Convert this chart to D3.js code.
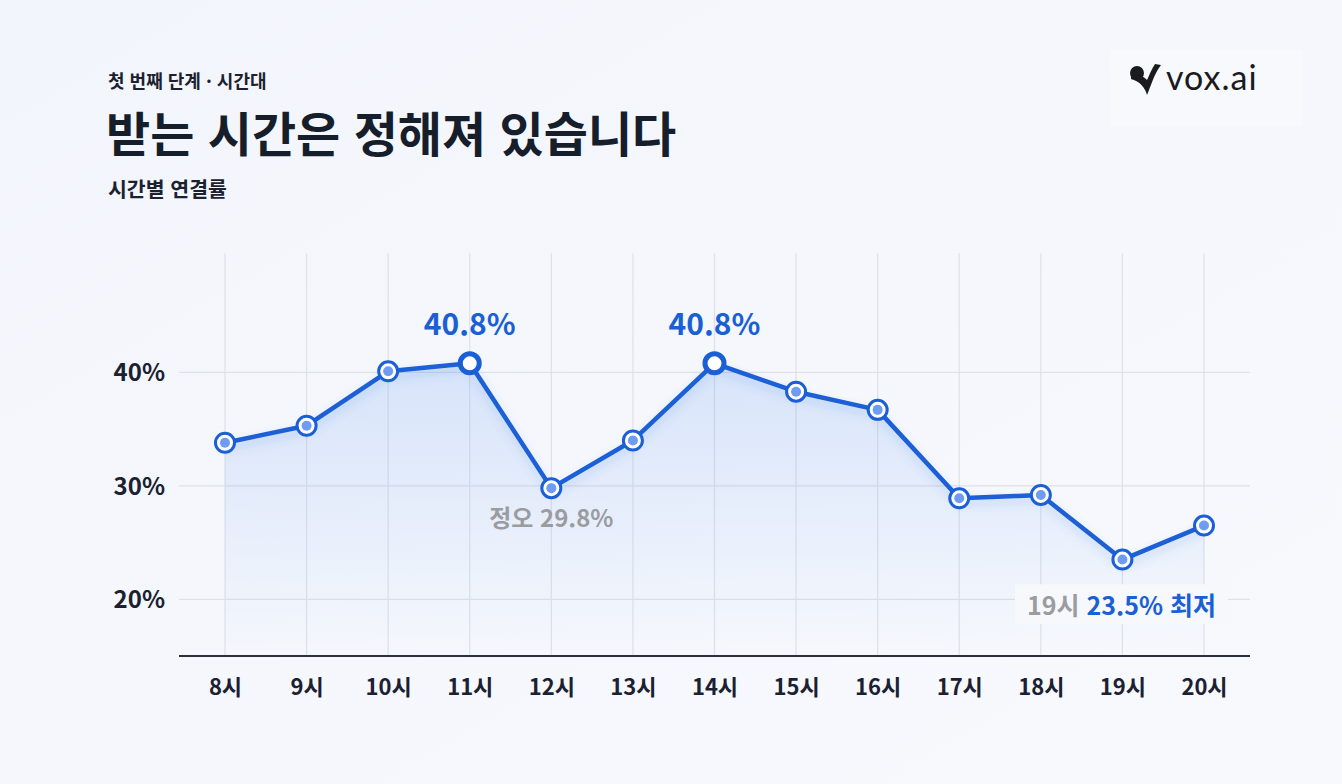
<!DOCTYPE html>
<html lang="ko">
<head>
<meta charset="utf-8">
<script src="https://cdn.jsdelivr.net/npm/d3@7"></script>
<style>
  html, body { margin: 0; padding: 0; }
  body { width: 1342px; height: 784px; overflow: hidden; background: #f4f7fc; }
  svg { display: block; font-family: "Noto Sans CJK KR", "Noto Sans", sans-serif; }
</style>
</head>
<body>
<script>
// data
const hours = ['8시', '9시', '10시', '11시', '12시', '13시', '14시', '15시', '16시', '17시', '18시', '19시', '20시'];
const rates = [33.8, 35.3, 40.1, 40.8, 29.8, 34.0, 40.8, 38.3, 36.7, 28.9, 29.2, 23.5, 26.5];
const yTicks = [20, 30, 40];
const peakHours = ['11시', '14시'];

const width = 1342, height = 784;
const blue = '#1a5fd6';

const svg = d3.select('body')
  .append('svg')
  .attr('width', width)
  .attr('height', height);

const defs = svg.append('defs');

const bg = defs.append('linearGradient')
  .attr('id', 'bg')
  .attr('x1', 0).attr('y1', 0).attr('x2', 1).attr('y2', 1);
bg.append('stop').attr('offset', '0%').attr('stop-color', '#f2f5fb');
bg.append('stop').attr('offset', '100%').attr('stop-color', '#f7f9fd');

const areaGrad = defs.append('linearGradient')
  .attr('id', 'areaGrad')
  .attr('x1', 0).attr('y1', 0).attr('x2', 0).attr('y2', 1);
areaGrad.append('stop').attr('offset', '0%').attr('stop-color', '#3d7ff0').attr('stop-opacity', 0.16);
areaGrad.append('stop').attr('offset', '100%').attr('stop-color', '#3d7ff0').attr('stop-opacity', 0);

const glow = defs.append('filter').attr('id', 'glow')
  .attr('x', '-10%').attr('y', '-20%').attr('width', '120%').attr('height', '150%');
glow.append('feDropShadow')
  .attr('dx', 0).attr('dy', 5).attr('stdDeviation', 5)
  .attr('flood-color', '#1a5fd6').attr('flood-opacity', 0.18);

svg.append('rect')
  .attr('width', width)
  .attr('height', height)
  .attr('fill', 'url(#bg)');

// header
svg.append('text')
  .attr('x', 108).attr('y', 88)
  .attr('font-size', 18).attr('font-weight', 700)
  .attr('fill', '#1b2130')
  .text('첫 번째 단계 · 시간대');

svg.append('text')
  .attr('x', 106).attr('y', 152)
  .attr('font-size', 48).attr('font-weight', 700)
  .attr('fill', '#161d2b')
  .text('받는 시간은 정해져 있습니다');

svg.append('text')
  .attr('x', 108).attr('y', 197)
  .attr('font-size', 20.5).attr('font-weight', 700)
  .attr('fill', '#1b2130')
  .text('시간별 연결률');

// logo
const logo = svg.append('g');
logo.append('rect')
  .attr('x', 1110).attr('y', 50).attr('width', 192).attr('height', 76)
  .attr('fill', '#f7f9fd');
logo.append('circle')
  .attr('cx', 1137).attr('cy', 73).attr('r', 7)
  .attr('fill', '#1b1b1f');
logo.append('path')
  .attr('d', 'M1131 79 C1139 81 1145 87 1147 95 C1151 86 1154 74 1161 65 L1155 64 C1151 70 1149 76 1147 80 C1143 76 1138 74 1131 73 Z')
  .attr('fill', '#1b1b1f');
logo.append('text')
  .attr('x', 1166).attr('y', 90)
  .attr('font-family', 'Lato, "Open Sans", sans-serif')
  .attr('font-size', 34)
  .attr('letter-spacing', 1)
  .attr('fill', '#1b1b1f')
  .text('vox.ai');

// scales
const x = d3.scalePoint()
  .domain(hours)
  .range([225, 1204]);

const y = d3.scaleLinear()
  .domain([15, 50])
  .range([656, 259]);

const left = 179, right = 1250;

// grid
const grid = svg.append('g');
grid.selectAll('line.v')
  .data(hours)
  .enter()
  .append('line')
  .attr('class', 'v')
  .attr('x1', d => x(d)).attr('x2', d => x(d))
  .attr('y1', y(50.5)).attr('y2', y(15))
  .attr('stroke', '#dde1e8').attr('stroke-width', 1.2);

grid.selectAll('line.h')
  .data(yTicks)
  .enter()
  .append('line')
  .attr('class', 'h')
  .attr('x1', left).attr('x2', right)
  .attr('y1', d => y(d)).attr('y2', d => y(d))
  .attr('stroke', '#dde1e8').attr('stroke-width', 1.2);

// y axis labels
const yAxis = d3.axisLeft(y)
  .tickValues(yTicks)
  .tickFormat(d => d + '%')
  .tickSize(0)
  .tickPadding(0);

svg.append('g')
  .attr('transform', 'translate(165,0)')
  .call(yAxis)
  .call(g => g.select('.domain').remove())
  .call(g => g.selectAll('text')
    .attr('font-family', '"Noto Sans CJK KR", sans-serif')
    .attr('font-size', 24).attr('font-weight', 700)
    .attr('fill', '#1b2130')
    .attr('dy', '0.35em'));

// x axis
const xAxis = d3.axisBottom(x)
  .tickSize(0)
  .tickPadding(0);

svg.append('g')
  .attr('transform', 'translate(0,' + y(15) + ')')
  .call(xAxis)
  .call(g => g.select('.domain').remove())
  .call(g => g.selectAll('text')
    .attr('font-family', '"Noto Sans CJK KR", sans-serif')
    .attr('font-size', 22).attr('font-weight', 700)
    .attr('fill', '#1b2130')
    .attr('y', 39).attr('dy', 0));

svg.append('line')
  .attr('x1', left).attr('x2', right)
  .attr('y1', y(15)).attr('y2', y(15))
  .attr('stroke', '#2a2f3a').attr('stroke-width', 2);

// area + line
const area = d3.area()
  .x((d, i) => x(hours[i]))
  .y0(y(15))
  .y1(d => y(d));

const line = d3.line()
  .x((d, i) => x(hours[i]))
  .y(d => y(d));

svg.append('path')
  .datum(rates)
  .attr('d', area)
  .attr('fill', 'url(#areaGrad)');

svg.append('path')
  .datum(rates)
  .attr('d', line)
  .attr('fill', 'none')
  .attr('stroke', blue)
  .attr('stroke-width', 4.5)
  .attr('stroke-linejoin', 'round')
  .attr('filter', 'url(#glow)');

// markers
const pts = svg.append('g')
  .selectAll('g')
  .data(rates)
  .enter()
  .append('g')
  .attr('transform', (d, i) => 'translate(' + x(hours[i]) + ',' + y(d) + ')');

pts.append('circle')
  .attr('r', 9.5)
  .attr('fill', '#ffffff')
  .attr('stroke', blue)
  .attr('stroke-width', (d, i) => peakHours.includes(hours[i]) ? 5 : 3);

pts.filter((d, i) => !peakHours.includes(hours[i]))
  .append('circle')
  .attr('r', 5)
  .attr('fill', '#6f9cf0');

// annotations
svg.selectAll('text.peak')
  .data(peakHours)
  .enter()
  .append('text')
  .attr('class', 'peak')
  .attr('x', d => x(d))
  .attr('y', d => y(rates[hours.indexOf(d)]) - 28)
  .attr('text-anchor', 'middle')
  .attr('font-size', 30).attr('font-weight', 700)
  .attr('fill', blue)
  .text(d => rates[hours.indexOf(d)].toFixed(1) + '%');

const noonIdx = hours.indexOf('12시');
svg.append('text')
  .attr('x', x('12시'))
  .attr('y', y(rates[noonIdx]) + 39)
  .attr('text-anchor', 'middle')
  .attr('font-size', 24).attr('font-weight', 700)
  .attr('fill', '#9a9ca0')
  .text('정오 ' + rates[noonIdx].toFixed(1) + '%');

const lowIdx = d3.minIndex(rates);
const lowG = svg.append('g');
const lowBg = lowG.append('rect').attr('fill', '#f6f8fc');
const lowText = lowG.append('text')
  .attr('x', 1216)
  .attr('y', y(20) + 16)
  .attr('text-anchor', 'end')
  .attr('font-size', 25).attr('font-weight', 700);
lowText.append('tspan').attr('fill', '#9a9ca0').text(hours[lowIdx] + ' ');
lowText.append('tspan').attr('fill', blue).text(rates[lowIdx].toFixed(1) + '% 최저');
const bb = lowText.node().getBBox();
lowBg.attr('x', bb.x - 12).attr('y', bb.y - 2)
  .attr('width', bb.width + 24).attr('height', bb.height + 4);
</script>
</body>
</html>
